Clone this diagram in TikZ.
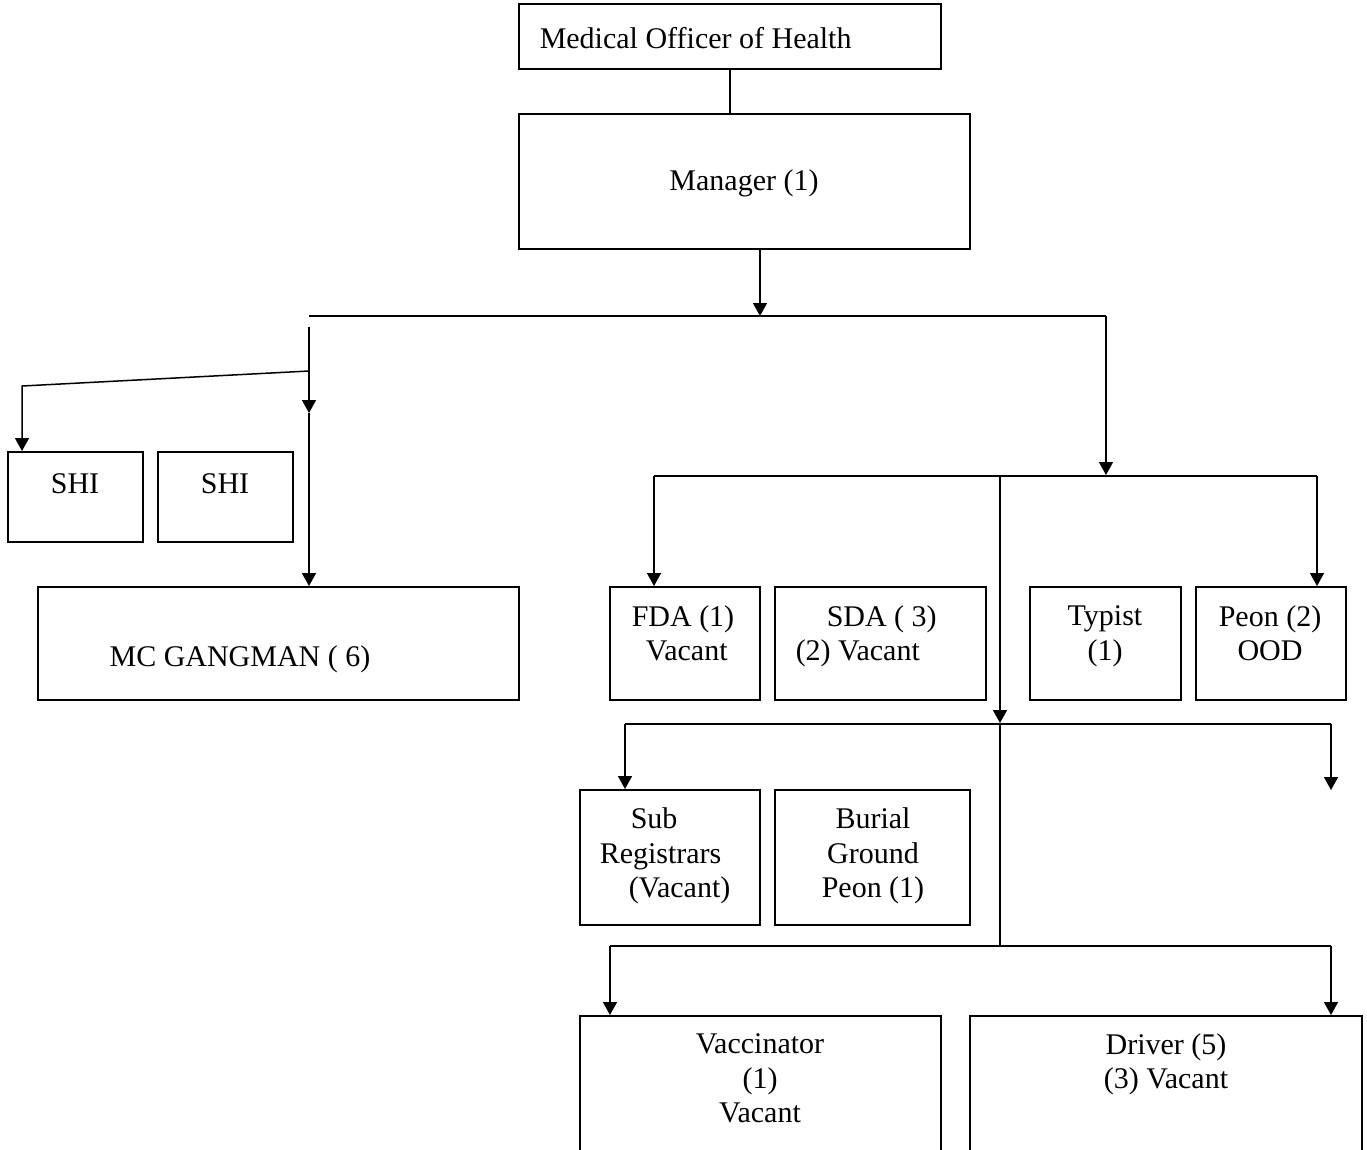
\documentclass[tikz,border=0pt]{standalone}
\usepackage{fontspec}
\setmainfont{Liberation Serif}
\usetikzlibrary{arrows.meta}
\begin{document}
\begin{tikzpicture}[x=0.4pt,y=-0.4pt,
    box/.style={draw,thick,rectangle,inner sep=0pt},
    txt/.style={align=center,inner sep=0pt,yshift=-1.8pt,font=\fontsize{12}{13.8}\selectfont,
        execute at begin node=\strut,execute at end node=\strut},
    arw/.style={-{Triangle[length=5.2pt,width=5.6pt]}},
    semithick]
\useasboundingbox (0,0) rectangle (1367,1149);
\clip (0,0) rectangle (1367,1149);
% boxes
\node[box,minimum width=168.8pt,minimum height=26pt] (moh) at (730,36.5) {};
\node[box,minimum width=180.4pt,minimum height=54pt] (mgr) at (744.5,181.5) {};
\node[box,minimum width=54pt,minimum height=36pt] (shiA) at (75.5,497) {};
\node[box,minimum width=54pt,minimum height=36pt] (shiB) at (225.5,497) {};
\node[box,minimum width=192.4pt,minimum height=45.2pt] (gang) at (278.5,643.5) {};
\node[box,minimum width=60pt,minimum height=45.2pt] (fda) at (685,643.5) {};
\node[box,minimum width=84.4pt,minimum height=45.2pt] (sda) at (880.5,643.5) {};
\node[box,minimum width=60.4pt,minimum height=45.2pt] (typist) at (1105.5,643.5) {};
\node[box,minimum width=60pt,minimum height=45.2pt] (peon) at (1271,643.5) {};
\node[box,minimum width=72pt,minimum height=54pt] (subreg) at (670,857.5) {};
\node[box,minimum width=78pt,minimum height=54pt] (burial) at (872.5,857.5) {};
\node[box,minimum width=144.4pt,minimum height=73.6pt] (vacc) at (760.5,1108) {};
\node[box,minimum width=156.8pt,minimum height=73.6pt] (driver) at (1166,1108) {};
% texts
\node[txt,anchor=west] (mohT) at (539,37) {Medical Officer of Health};
\node[txt] (mgrT) at (744,179) {Manager (1)};
\node[txt] (shiAT) at (75,482) {SHI};
\node[txt] (shiBT) at (225,482) {SHI};
\node[txt] (gangT) at (240,655) {MC GANGMAN ( 6)};
\node[txt] (fdaT) at (683,633.5) {FDA (1)\\ \ Vacant};
\node[txt,anchor=west,align=left] (sdaT) at (795,633.5) {\hspace{12.4pt}SDA ( 3)\\(2) Vacant};
\node[txt] (typistT) at (1105,633.5) {Typist\\(1)};
\node[txt] (peonT) at (1270,633.5) {Peon (2)\\OOD};
\node[txt,anchor=west,align=left] (subregT) at (599,853.5) {\hspace{12.4pt}Sub\\Registrars\\\hspace{11.6pt}(Vacant)};
\node[txt] (burialT) at (873,853.5) {Burial\\Ground\\Peon (1)};
\node[txt] (vaccT) at (760,1079) {Vaccinator\\(1)\\Vacant};
\node[txt] (driverT) at (1166,1061.5) {Driver (5)\\(3) Vacant};
% junctions
\coordinate (top) at (760,316);
\coordinate (left) at (309,316);
\coordinate (right) at (1106,316);
\coordinate (rowA) at (1000,476);
\coordinate (rowB) at (1000,724);
\coordinate (rowC) at (1000,946);
\coordinate (loose) at (1331,790);
% connectors
\draw (moh.south) -- (moh.south |- mgr.north);
\draw[arw] (mgr.south -| top) -- (top);
\draw (left) -- (right);
\draw[arw] (309,327) -- (309,413);
\draw[arw] (309,413) -- (gang.north -| left);
\draw[arw] (309,371) -- (22,386) -- (shiA.north -| 22,0);
\draw[arw] (right) -- (1106,475);
\draw (654,476) -- (1317,476);
\draw[arw] (654,476) -- (fda.north -| 654,0);
\draw[arw] (1317,476) -- (peon.north -| 1317,0);
\draw[arw] (rowA) -- (1000,723);
\draw (rowB) -- (rowC);
\draw (625,724) -- (1331,724);
\draw[arw] (625,724) -- (subreg.north -| 625,0);
\draw[arw] (1331,724) -- (loose);
\draw (610,946) -- (1331,946);
\draw[arw] (610,946) -- (vacc.north -| 610,0);
\draw[arw] (1331,946) -- (driver.north -| 1331,0);
\end{tikzpicture}
\end{document}
